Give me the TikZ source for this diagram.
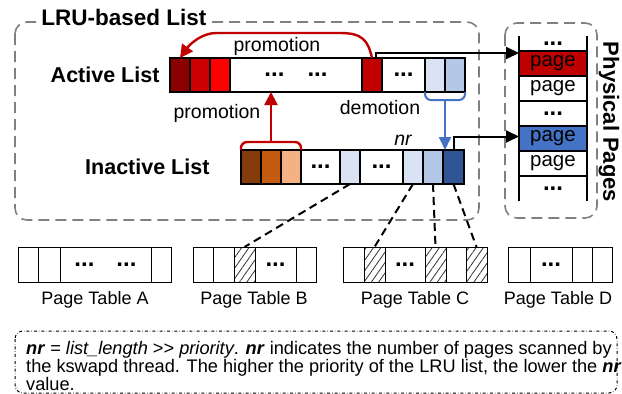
\documentclass[tikz,border=0pt]{standalone}
\usepackage{fontspec}
\setmainfont{Liberation Sans}
\usetikzlibrary{arrows.meta,patterns.meta,calc}

\definecolor{actA}{HTML}{8B0000}
\definecolor{actB}{HTML}{CC0000}
\definecolor{actC}{HTML}{FF0000}
\definecolor{demred}{HTML}{C00000}
\definecolor{inaA}{HTML}{843C0C}
\definecolor{inaB}{HTML}{C55A11}
\definecolor{inaC}{HTML}{F4B183}
\definecolor{bluA}{HTML}{DAE3F3}
\definecolor{bluB}{HTML}{B4C7E7}
\definecolor{bluC}{HTML}{2F5597}
\definecolor{bluD}{HTML}{4472C4}

\begin{document}
\begin{tikzpicture}[x=1pt,y=-1pt,
  cell/.style={draw, line width=1.3pt, inner sep=0pt, outer sep=0pt, minimum height=34pt},
  ptcell/.style={draw, line width=1pt, inner sep=0pt, outer sep=0pt, minimum height=35pt},
  pgcell/.style={draw, line width=1.3pt, inner sep=0pt, outer sep=0pt, minimum width=68pt, minimum height=25pt, font=\fontsize{20.5}{22}\selectfont},
  hatched/.style={pattern={Lines[angle=55,distance=6pt,line width=0.8pt]}, pattern color=black!80},
  group/.style={draw=gray, dash pattern=on 11pt off 6pt, line width=1.6pt, rounded corners=12pt},
  link/.style={draw, dash pattern=on 8pt off 5pt, line width=2pt},
  redarr/.style={draw=demred, line width=2.4pt, -{Triangle[length=13pt,width=13pt]}},
  bluarr/.style={draw=bluD, line width=2pt, -{Triangle[length=13pt,width=12pt]}},
  blkarr/.style={draw, line width=2pt, -{Triangle[length=13pt,width=12pt]}},
  lbl/.style={font=\fontsize{18}{20}\selectfont},
  arrlbl/.style={font=\fontsize{19.5}{21}\selectfont},
  head/.style={font=\fontsize{21.5}{23}\selectfont\bfseries},
  dots/.style={font=\fontsize{24}{24}\selectfont\bfseries}
]
\useasboundingbox (0,0) rectangle (622,394);

%groups
\draw[group] (15,22) rectangle (479,220);
\draw[group] (505,23) rectangle (597,218);
\node[fill=white, inner sep=3pt, font=\fontsize{22.5}{24}\selectfont\bfseries] (lru) at (124,17) {LRU-based List};
\node[head, font=\fontsize{22}{24}\selectfont\bfseries, rotate=-90] (phys) at (609,122) {Physical Pages};

%active list
\node[head, anchor=east] (actlbl) at (163,75) {Active List};
\node[cell, fill=actA, minimum width=20pt] (a1) at (180,75) {};
\node[cell, fill=actB, minimum width=20pt] (a2) at (200,75) {};
\node[cell, fill=actC, minimum width=20pt] (a3) at (220,75) {};
\node[cell, minimum width=132pt, dots] (a4) at (296,75) {...\hspace{23pt}...};
\node[cell, fill=demred, minimum width=20pt] (a5) at (372,75) {};
\node[cell, minimum width=43pt, dots] (a6) at (403.5,75) {...};
\node[cell, fill=bluA, minimum width=20pt] (a7) at (435,75) {};
\node[cell, fill=bluB, minimum width=20pt] (a8) at (455,75) {};

%inactive list
\node[head, anchor=east] (inalbl) at (213,167) {Inactive List};
\node[cell, fill=inaA, minimum width=20pt] (i1) at (251,167) {};
\node[cell, fill=inaB, minimum width=20pt] (i2) at (271,167) {};
\node[cell, fill=inaC, minimum width=20pt] (i3) at (291,167) {};
\node[cell, minimum width=39pt, dots] (i4) at (320.5,167) {...};
\node[cell, fill=bluA, minimum width=20pt] (i5) at (350,167) {};
\node[cell, minimum width=43pt, dots] (i6) at (381.5,167) {...};
\node[cell, fill=bluA, minimum width=20pt] (i7) at (413,167) {};
\node[cell, fill=bluB, minimum width=20pt] (i8) at (433,167) {};
\node[cell, fill=bluC, minimum width=21pt] (i9) at (453.5,167) {};

%physical pages
\draw[line width=1.3pt] (519,36) -- (519,201);
\draw[line width=1.3pt] (587,36) -- (587,201);
\node[dots] (p0) at (553,43.5) {...};
\node[pgcell, fill=demred] (p1) at (553,63.5) {page};
\node[pgcell] (p2) at (553,88.5) {page};
\node[pgcell, dots] (p3) at (553,113.5) {...};
\node[pgcell, fill=bluD] (p4) at (553,138.5) {page};
\node[pgcell] (p5) at (553,163.5) {page};
\node[dots] (p6) at (553,188.5) {...};

%promotion and demotion
\draw[redarr] (a5.north) .. controls (368,40) and (362,33) .. (340,33) -- (216,33) .. controls (202,33) and (190,44) .. (a1.north);
\node[arrlbl] (promtop) at (277,46) {promotion};
\coordinate (brace) at ($(i2.north)+(0,-8)$);
\draw[demred, line width=2.4pt, rounded corners=6pt] (i1.north west) |- (brace) -| (i3.north east);
\draw[redarr] (brace) -- (i2.north |- a4.south);
\node[arrlbl] (prombot) at (217,113) {promotion};
\coordinate (dbrace) at ($(a7.south east)+(0,8)$);
\draw[bluD, line width=2pt, rounded corners=6pt] (a7.south west) |- (dbrace) -| (a8.south east);
\draw[bluarr] (dbrace) -- (dbrace |- i9.north);
\node[arrlbl] (demot) at (380,108) {demotion};
\node[arrlbl, font=\fontsize{19.5}{21}\selectfont\itshape] (nr) at (403,140) {nr};

%mapping to pages
\draw[blkarr] ([xshift=4pt]a5.north) |- ([yshift=-2pt]p1.north west);
\draw[blkarr] (i9.north) |- ([yshift=2pt]p4.west);

%page tables
\node[ptcell, minimum width=20pt] (pa1) at (28,264.5) {};
\node[ptcell, minimum width=22pt] (pa2) at (49,264.5) {};
\node[ptcell, minimum width=91pt, dots] (pa3) at (105.5,264.5) {...\hspace{22pt}...};
\node[ptcell, minimum width=20pt] (pa4) at (161,264.5) {};
\node[ptcell, minimum width=20pt] (pb1) at (203,264.5) {};
\node[ptcell, minimum width=21pt] (pb2) at (223.5,264.5) {};
\node[ptcell, hatched, minimum width=21pt] (pb3) at (244.5,264.5) {};
\node[ptcell, minimum width=41pt, dots] (pb4) at (275.5,264.5) {...};
\node[ptcell, minimum width=20pt] (pb5) at (306,264.5) {};
\node[ptcell, minimum width=21pt] (pc1) at (353.5,264.5) {};
\node[ptcell, hatched, minimum width=21pt] (pc2) at (374.5,264.5) {};
\node[ptcell, minimum width=40pt, dots] (pc3) at (405,264.5) {...};
\node[ptcell, hatched, minimum width=21pt] (pc4) at (435.5,264.5) {};
\node[ptcell, minimum width=20pt] (pc5) at (456,264.5) {};
\node[ptcell, hatched, minimum width=21pt] (pc6) at (476.5,264.5) {};
\node[ptcell, minimum width=22pt] (pd1) at (519,264.5) {};
\node[ptcell, minimum width=42pt, dots] (pd2) at (551,264.5) {...};
\node[ptcell, minimum width=20pt] (pd3) at (582,264.5) {};
\node[ptcell, minimum width=20pt] (pd4) at (602,264.5) {};
\node[lbl] (pta) at (95,300) {Page Table A};
\node[lbl] (ptb) at (254,300) {Page Table B};
\node[lbl] (ptc) at (415,300) {Page Table C};
\node[lbl] (ptd) at (558,300) {Page Table D};

%scanned pages
\draw[link] (i5.south) -- (pb3.north);
\draw[link] (i7.south) -- (pc2.north);
\draw[link] (i8.south) -- (pc4.north);
\draw[link] (i9.south) -- (pc6.north);

%note
\draw[dash dot, line width=1pt, rounded corners=8pt] (15,331) rectangle (617,393);
\node[anchor=west, align=left, inner sep=0pt, font=\fontsize{18.2}{18}\selectfont] (note) at (26,365.5) {\textbf{\textit{nr}} = \textit{list\_length} >{}> \textit{priority}. \textbf{\textit{nr}} indicates the number of pages scanned by\\the kswapd thread. The higher the priority of the LRU list, the lower the \textbf{\textit{nr}}\\value.};
\end{tikzpicture}
\end{document}
